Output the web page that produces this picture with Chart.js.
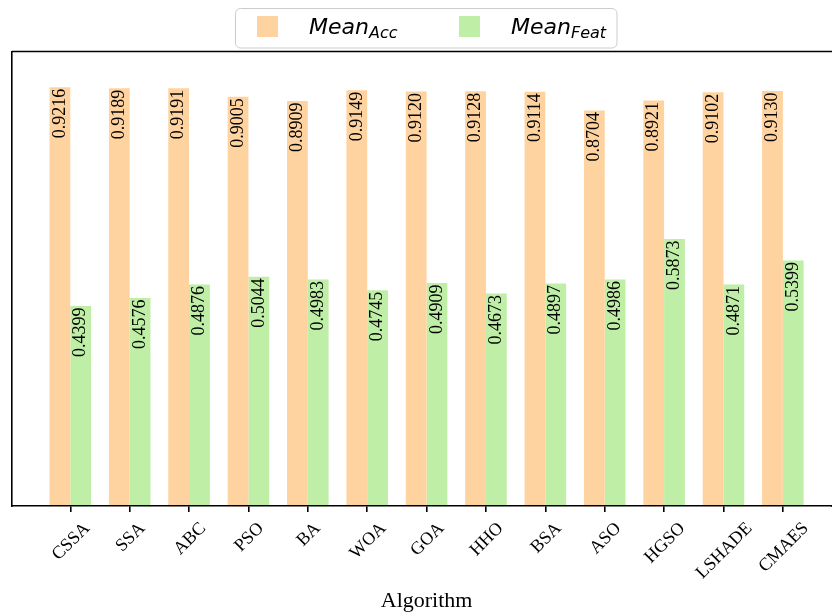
<!DOCTYPE html>
<html>
<head>
<meta charset="utf-8">
<script src="https://cdn.jsdelivr.net/npm/chart.js@4/dist/chart.umd.min.js"></script>
<style>
  html, body { margin: 0; padding: 0; background: #fff; overflow: hidden; }
  canvas { display: block; }
</style>
</head>
<body>
<canvas id="c" width="832" height="614"></canvas>
<script>
// Algorithms compared
const algorithms = ['CSSA', 'SSA', 'ABC', 'PSO', 'BA', 'WOA', 'GOA', 'HHO', 'BSA', 'ASO', 'HGSO', 'LSHADE', 'CMAES'];
// Mean accuracy per algorithm
const meanAcc = [0.9216, 0.9189, 0.9191, 0.9005, 0.8909, 0.9149, 0.9120, 0.9128, 0.9114, 0.8704, 0.8921, 0.9102, 0.9130];
// Mean selected-feature ratio per algorithm
const meanFeat = [0.4399, 0.4576, 0.4876, 0.5044, 0.4983, 0.4745, 0.4909, 0.4673, 0.4897, 0.4986, 0.5873, 0.4871, 0.5399];
// Legend names: [main text, subscript]
const seriesNames = [['Mean', 'Acc'], ['Mean', 'Feat']];
const seriesColors = ['#ffd3a0', '#bfeea6'];
const axisTitle = 'Algorithm';

const SERIF = '"Liberation Serif", "Times New Roman", serif';
const SANS = '"DejaVu Sans", sans-serif';

const W = 832, H = 614;
const PLOT = { left: 12, top: 51.5, bottom: 506 };
// first category centre and category spacing along x (px)
const X0 = 70.3, STEP = 59.38;

const decor = {
  id: 'decor',
  afterDatasetsDraw(chart) {
    const ctx = chart.ctx;
    ctx.save();
    ctx.fillStyle = '#000';
    ctx.font = '18px ' + SERIF;
    ctx.textAlign = 'right';
    ctx.textBaseline = 'middle';
    chart.data.datasets.forEach((ds, d) => {
      const meta = chart.getDatasetMeta(d);
      meta.data.forEach((bar, i) => {
        ctx.save();
        ctx.translate(bar.x, bar.y + 1.5);
        ctx.rotate(-Math.PI / 2);
        ctx.fillText(ds.data[i].y.toFixed(4), 0, 0);
        ctx.restore();
      });
    });
    ctx.restore();
  },
  afterDraw(chart) {
    const ctx = chart.ctx;
    const a = chart.chartArea;
    const xs = chart.scales.x;
    ctx.save();
    // top frame line and the bottom axis carried on to the canvas edge
    ctx.strokeStyle = '#000';
    ctx.lineWidth = 1.6;
    ctx.beginPath();
    ctx.moveTo(a.left, a.top);
    ctx.lineTo(W + 2, a.top);
    ctx.moveTo(a.right - 1, a.bottom);
    ctx.lineTo(W + 2, a.bottom);
    ctx.stroke();

    // rotated category labels, bounding box centred under each tick
    ctx.fillStyle = '#000';
    ctx.font = '18px ' + SERIF;
    ctx.textAlign = 'center';
    ctx.textBaseline = 'alphabetic';
    const capH = 12;
    const labelTop = 520.5;
    algorithms.forEach((name, i) => {
      const x = xs.getPixelForValue(i);
      const w = ctx.measureText(name).width;
      const h = (w + capH) * Math.SQRT1_2;
      ctx.save();
      ctx.translate(x, labelTop + h / 2);
      ctx.rotate(-Math.PI / 4);
      ctx.fillText(name, 0, capH / 2);
      ctx.restore();
    });

    // axis title, centred on the full frame width
    ctx.font = '22px ' + SERIF;
    const frameRight = xs.getPixelForValue(12) + (X0 - PLOT.left);
    ctx.fillText(axisTitle, (PLOT.left + frameRight) / 2, 607);

    // legend
    const lx = 235.5, ly = 8.5, lw = 381.5, lh = 39.5;
    ctx.fillStyle = 'rgba(255,255,255,0.8)';
    ctx.strokeStyle = '#cccccc';
    ctx.lineWidth = 1;
    ctx.beginPath();
    ctx.roundRect(lx, ly, lw, lh, 5);
    ctx.fill();
    ctx.stroke();
    const entries = [
      { patchX: 257, textX: 309 },
      { patchX: 459, textX: 511 }
    ];
    entries.forEach((e, k) => {
      ctx.fillStyle = seriesColors[k];
      ctx.fillRect(e.patchX, 16, 21, 21);
      ctx.fillStyle = '#000';
      ctx.textAlign = 'left';
      ctx.font = 'italic 22px ' + SANS;
      ctx.fillText(seriesNames[k][0], e.textX, 33.5);
      const mw = ctx.measureText(seriesNames[k][0]).width;
      ctx.font = 'italic 16px ' + SANS;
      ctx.fillText(seriesNames[k][1], e.textX + mw, 37.5);
    });
    ctx.restore();
  }
};

const toPoints = arr => arr.map((v, i) => ({ x: i, y: v }));

const chart = new Chart(document.getElementById('c'), {
  type: 'bar',
  data: {
    datasets: [
      { label: 'Mean_Acc', data: toPoints(meanAcc), backgroundColor: seriesColors[0], borderWidth: 0 },
      { label: 'Mean_Feat', data: toPoints(meanFeat), backgroundColor: seriesColors[1], borderWidth: 0 }
    ]
  },
  options: {
    responsive: false,
    devicePixelRatio: 1,
    animation: false,
    layout: { autoPadding: false, padding: { left: 0, top: PLOT.top, right: 0, bottom: 0 } },
    datasets: { bar: { categoryPercentage: 0.7, barPercentage: 1.0 } },
    plugins: { legend: { display: false }, tooltip: { enabled: false }, title: { display: false } },
    scales: {
      x: {
        type: 'linear',
        offset: false,
        min: -0.985,
        max: 12.985,
        afterBuildTicks(s) { s.ticks = algorithms.map((_, i) => ({ value: i })); },
        ticks: { display: false },
        grid: { display: true, offset: false, drawOnChartArea: false, drawTicks: true, tickLength: 6, color: '#000', lineWidth: 1.6 },
        border: { display: true, color: '#000', width: 1.6, z: 1 },
        afterFit(s) { s.height = H - PLOT.bottom; s.paddingLeft = 0; s.paddingRight = 0; }
      },
      y: {
        min: 0,
        max: 1,
        ticks: { display: false },
        grid: { display: false, drawTicks: false },
        border: { display: true, color: '#000', width: 1.6, z: 1 },
        afterFit(s) { s.width = PLOT.left; s.paddingTop = 0; s.paddingBottom = 0; }
      }
    }
  },
  plugins: [decor]
});

// set the x limits from the laid-out scale so categories sit STEP px apart from X0
(function settle() {
  const xs = chart.scales.x;
  const xo = chart.options.scales.x;
  xo.min = (xs.left - X0) / STEP;
  xo.max = (xs.right - X0) / STEP;
  chart.update();
})();
</script>
</body>
</html>
